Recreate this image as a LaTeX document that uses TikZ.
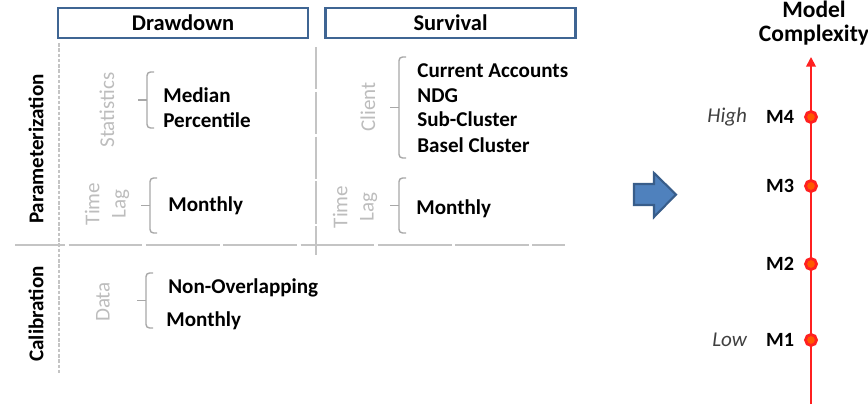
\documentclass[tikz,border=0pt]{standalone}
\usepackage{fontspec}
\setmainfont{Carlito}
\usetikzlibrary{arrows.meta,positioning}

\definecolor{hdblue}{HTML}{3F6593}
\definecolor{arrfill}{HTML}{4F81BD}
\definecolor{arrline}{HTML}{385D8A}
\definecolor{rulegr}{HTML}{C4C4C4}
\definecolor{catgr}{HTML}{BDBDBD}
\definecolor{brkgr}{HTML}{A8A8A8}
\definecolor{axred}{HTML}{FF2020}

\tikzset{
  hdr/.style={draw=hdblue, line width=1.2pt, minimum width=5cm, minimum height=0.6cm,
    inner sep=0pt, font=\bfseries\fontsize{12.8}{14}\selectfont},
  side/.style={rotate=90, inner sep=0pt, font=\bfseries\fontsize{12}{14}\selectfont},
  cat/.style={rotate=90, inner sep=0pt, text=catgr, align=center, font=\fontsize{12}{15}\selectfont},
  item/.style={anchor=base west, inner sep=0pt, font=\bfseries\fontsize{12}{14}\selectfont},
  brk/.style={draw=brkgr, line width=0.8pt, rounded corners=2pt},
  mdot/.style={circle, draw=axred, fill=orange!70!red, line width=1.6pt, minimum size=0.22cm, inner sep=0pt},
  mlab/.style={inner sep=0pt, font=\bfseries\fontsize{11.5}{14}\selectfont},
  lvl/.style={inner sep=0pt, text=black!75, font=\itshape\fontsize{12}{14}\selectfont},
}

\begin{document}
\begin{tikzpicture}[x=0.02cm,y=-0.02cm]
\useasboundingbox (0,0) rectangle (868,406);

% column heads
\node[hdr] (dd) at (183,23) {Drawdown};
\node[hdr] (sv) at (450.5,23) {Survival};

% grid
\draw[rulegr, line width=0.8pt, dash pattern=on 2pt off 1pt] (59,43) -- (59,373);
\draw[rulegr, line width=0.8pt, dash pattern=on 24pt off 1.5pt] (316,47) -- (316,255);
\draw[rulegr, line width=0.8pt, dash pattern=on 42pt off 2pt, dash phase=13.5pt] (15,245) -- (565,245);

% row heads
\node[side] (par) at (36,149) {Parameterization};
\node[side] (cal) at (36,314) {Calibration};

% categories
\node[cat] (stat) at (107,110) {Statistics};
\node[cat] (tl1) at (107,204) {Time\\Lag};
\node[cat] (data) at (103,302) {Data};
\node[cat] (cli) at (368,107) {Client};
\node[cat] (tl2) at (355,207) {Time\\Lag};

% brackets
\foreach \x/\t/\b in {147/72/128, 150/178/233, 146/273/328, 399/57/158, 399/178/233} {
  \draw[brk] (\x+7,\t) -- (\x,\t) -- (\x,\b) -- (\x+7,\b);
  \draw[brk] (\x-9,{(\t+\b)/2}) -- (\x,{(\t+\b)/2});
}

% items
\node[item] (med) at (163,102) {Median};
\node[item] (pct) at (163,127) {Percentile};
\node[item] (mon1) at (168,211) {Monthly};
\node[item] (novl) at (168,293) {Non-Overlapping};
\node[item] (mon3) at (166,326) {Monthly};
\node[item] (ca) at (417,77) {Current Accounts};
\node[item] (ndg) at (417,102) {NDG};
\node[item] (subc) at (417,126) {Sub-Cluster};
\node[item] (basc) at (417,152) {Basel Cluster};
\node[item] (mon2) at (416,214) {Monthly};

% block arrow
\draw[arrline, fill=arrfill, line width=1.2pt, line join=miter]
  (634,184) -- (654,184) -- (654,173) -- (676,194.5) -- (654,217) -- (654,205) -- (634,205) -- cycle;

% complexity axis
\coordinate (axbot) at (811,404);
\coordinate (axtop) at (811,57);
\draw[axred, line width=1pt, -{Triangle[length=5.5pt,width=5.5pt]}] (axbot) -- (axtop);
\node[mlab, align=center, font=\bfseries\fontsize{13.4}{13.5}\selectfont] (mc) at (814,23) {Model\\Complexity};
\foreach \n/\y in {1/340, 2/264, 3/186, 4/117} {
  \node[mdot] (m\n) at (811,\y) {};
  \node[mlab, left=5.5pt of m\n] (lm\n) {M\n};
}
\node[lvl, left=10.5pt of lm4] (hi) {High};
\node[lvl, left=10.5pt of lm1] (lo) {Low};
\end{tikzpicture}
\end{document}
